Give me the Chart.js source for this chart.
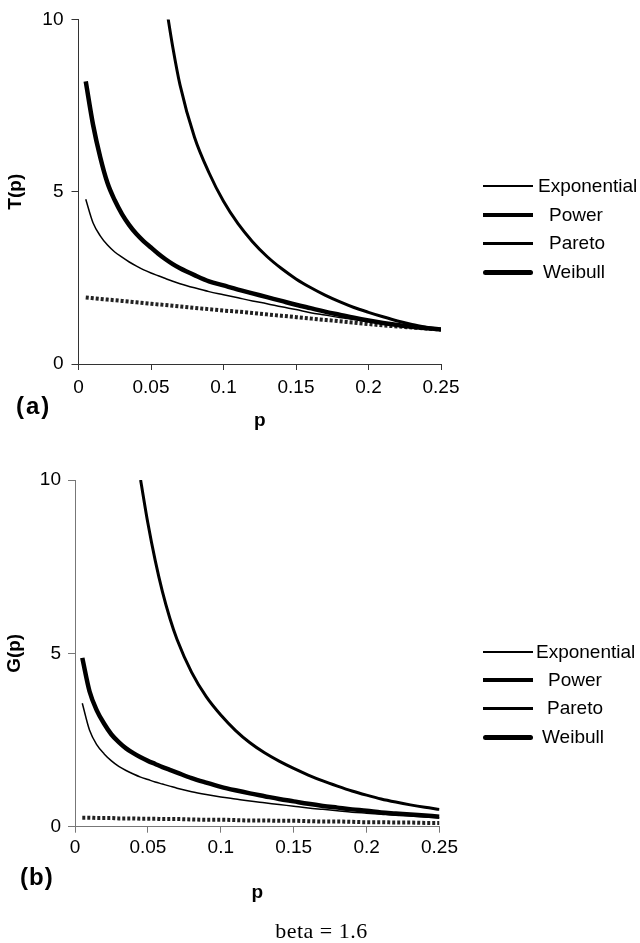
<!DOCTYPE html>
<html>
<head>
<meta charset="utf-8">
<script src="https://cdn.jsdelivr.net/npm/chart.js@4.4.1/dist/chart.umd.min.js"></script>
<style>
  body { margin: 0; background: #fff; }
  #page { position: relative; width: 640px; height: 943px; font-family: Arial, "Liberation Sans", sans-serif; color: #000; overflow: hidden; }
  canvas { position: absolute; left: 0; }
  .panel { position: absolute; font-weight: bold; font-size: 24px; line-height: 24px; }
  .leg-line { position: absolute; background: #000; }
  .leg-text { position: absolute; font-size: 19px; line-height: 24px; white-space: nowrap; }
  #beta { position: absolute; left: 0; width: 643px; top: 920px; text-align: center; font-family: "Liberation Serif", serif; font-size: 22px; line-height: 22px; letter-spacing: 0.5px; }
</style>
</head>
<body>
<div id="page">
  <canvas id="chartT" width="640" height="442" style="top:0px"></canvas>
  <canvas id="chartG" width="640" height="480" style="top:440px"></canvas>
  <div class="panel" style="left:16px; top:394px; letter-spacing:2px">(a)</div>
  <div class="panel" style="left:20px; top:865px; letter-spacing:1px">(b)</div>
  <div id="beta">beta = 1.6</div>
</div>
<script>
// p values shared by both panels
const pGrid = [0.005, 0.01, 0.015, 0.02, 0.025, 0.03, 0.035, 0.04, 0.045, 0.05, 0.055, 0.06, 0.065, 0.07,
               0.08, 0.09, 0.10, 0.11, 0.12, 0.13, 0.14, 0.15, 0.16, 0.17, 0.18, 0.19, 0.20, 0.21, 0.22, 0.23, 0.24, 0.25];

// panel (a): T(p)
const tExponential = [4.78, 4.10, 3.72, 3.45, 3.25, 3.10, 2.96, 2.84, 2.73, 2.64, 2.56, 2.48, 2.40, 2.33,
                      2.21, 2.10, 2.01, 1.92, 1.83, 1.75, 1.66, 1.58, 1.49, 1.42, 1.35, 1.29, 1.23, 1.18, 1.13, 1.08, 1.04, 1.00];
const tPower = [8.20, 6.95, 6.00, 5.25, 4.75, 4.35, 4.03, 3.77, 3.56, 3.38, 3.20, 3.04, 2.90, 2.78,
                2.58, 2.40, 2.28, 2.16, 2.05, 1.94, 1.83, 1.72, 1.62, 1.52, 1.43, 1.34, 1.26, 1.19, 1.13, 1.08, 1.04, 1.00];
const tPareto = [null, null, null, null, null, null, null, null, null, null, null, 10.5, 9.2, 8.1,
                 6.58, 5.55, 4.72, 4.07, 3.55, 3.12, 2.77, 2.47, 2.22, 2.00, 1.81, 1.64, 1.50, 1.37, 1.25, 1.15, 1.07, 1.00];
const tWeibull = [1.93, 1.91, 1.89, 1.87, 1.85, 1.83, 1.81, 1.79, 1.77, 1.75, 1.73, 1.71, 1.69, 1.67,
                  1.63, 1.59, 1.55, 1.52, 1.48, 1.44, 1.40, 1.36, 1.32, 1.28, 1.24, 1.20, 1.16, 1.12, 1.09, 1.06, 1.03, 1.00];

// panel (b): G(p)
const gExponential = [3.56, 2.78, 2.36, 2.10, 1.90, 1.74, 1.62, 1.52, 1.43, 1.36, 1.29, 1.23, 1.17, 1.11,
                      1.01, 0.93, 0.86, 0.80, 0.74, 0.69, 0.64, 0.59, 0.54, 0.50, 0.46, 0.42, 0.39, 0.36, 0.33, 0.31, 0.28, 0.26];
const gPower = [4.87, 3.90, 3.35, 2.97, 2.66, 2.44, 2.26, 2.12, 2.00, 1.90, 1.81, 1.72, 1.64, 1.56,
                1.40, 1.27, 1.15, 1.05, 0.96, 0.88, 0.80, 0.73, 0.66, 0.60, 0.55, 0.50, 0.46, 0.41, 0.38, 0.35, 0.32, 0.29];
const gPareto = [null, null, null, null, null, null, null, null, 10.0, 8.75, 7.68, 6.77, 6.02, 5.40,
                 4.45, 3.75, 3.22, 2.78, 2.42, 2.13, 1.89, 1.68, 1.49, 1.32, 1.17, 1.03, 0.91, 0.80, 0.71, 0.63, 0.56, 0.50];
const gWeibull = [0.26, 0.26, 0.25, 0.25, 0.25, 0.24, 0.24, 0.24, 0.23, 0.23, 0.23, 0.22, 0.22, 0.22,
                  0.21, 0.20, 0.20, 0.19, 0.18, 0.18, 0.17, 0.17, 0.16, 0.15, 0.15, 0.14, 0.13, 0.13, 0.12, 0.12, 0.11, 0.11];

const seriesNames = ['Exponential', 'Power', 'Pareto', 'Weibull'];
const xTickLabels = ['0', '0.05', '0.1', '0.15', '0.2', '0.25'];
const yTickLabels = ['0', '5', '10'];

// line look per series (chart and legend)
const lineStyles = {
    Exponential: { borderWidth: 1.5 },
    Power: { borderWidth: 4.5 },
    Pareto: { borderWidth: 3 },
    Weibull: { borderWidth: 4, borderDash: [3, 2], borderColor: '#222' }
};
const legendWidths = { Exponential: 1.5, Power: 4.5, Pareto: 3, Weibull: 5 };

function toPoints(vals) {
    return pGrid.map((p, i) => ({ x: p, y: vals[i] }));
}

function buildChart(id, series, yTitle, box) {
    const font = { family: 'Arial, "Liberation Sans", sans-serif', size: 19 };
    new Chart(document.getElementById(id), {
        type: 'line',
        data: {
            datasets: seriesNames.map((name, k) => Object.assign({
                label: name,
                data: toPoints(series[k]),
                borderColor: '#000',
                backgroundColor: '#000',
                pointRadius: 0,
                fill: false,
                cubicInterpolationMode: 'monotone'
            }, lineStyles[name]))
        },
        options: {
            responsive: false,
            animation: false,
            devicePixelRatio: 1,
            layout: { padding: { top: box.top, right: 640 - box.right, left: 0, bottom: 0 } },
            plugins: { legend: { display: false }, tooltip: { enabled: false } },
            scales: {
                x: {
                    type: 'linear',
                    min: 0,
                    max: 0.25,
                    afterFit: function (s) { s.height = box.height - box.bottom; },
                    ticks: {
                        stepSize: 0.05,
                        autoSkip: false,
                        maxRotation: 0,
                        color: '#000',
                        font: font,
                        padding: box.xTickPad,
                        callback: (v, i) => xTickLabels[i]
                    },
                    grid: { drawOnChartArea: false, tickLength: 6, color: box.axisColor },
                    border: { color: box.axisColor, width: 1 },
                    title: {
                        display: true,
                        text: 'p',
                        color: '#000',
                        font: Object.assign({}, font, { weight: 'bold' }),
                        padding: { top: 0, bottom: box.xTitlePad }
                    }
                },
                y: {
                    min: 0,
                    max: 10,
                    afterFit: function (s) { s.width = box.left; },
                    ticks: {
                        stepSize: 5,
                        color: '#000',
                        font: font,
                        padding: box.yTickPad,
                        callback: (v, i) => yTickLabels[i]
                    },
                    grid: { drawOnChartArea: false, tickLength: 7, color: box.axisColor },
                    border: { color: box.axisColor, width: 1 },
                    title: {
                        display: true,
                        text: yTitle,
                        color: '#000',
                        font: Object.assign({}, font, { weight: 'bold' }),
                        padding: { top: box.yTitlePad, bottom: 0 }
                    }
                }
            }
        }
    });
}

function buildLegend(rowsY, textX) {
    const page = document.getElementById('page');
    seriesNames.forEach((name, k) => {
        const w = legendWidths[name];
        const line = document.createElement('div');
        line.className = 'leg-line';
        line.style.left = '483px';
        line.style.width = '50px';
        line.style.height = w + 'px';
        line.style.top = (rowsY[k] - w / 2) + 'px';
        if (name === 'Weibull') line.style.borderRadius = '3px';
        page.appendChild(line);

        const txt = document.createElement('div');
        txt.className = 'leg-text';
        txt.textContent = name;
        txt.style.left = textX[k] + 'px';
        txt.style.top = (rowsY[k] - 12) + 'px';
        page.appendChild(txt);
    });
}

buildChart('chartT', [tExponential, tPower, tPareto, tWeibull], 'T(p)', {
    left: 78.5, right: 441, top: 16, bottom: 364, height: 442,
    xTickPad: 6, yTickPad: 8, xTitlePad: 10, yTitlePad: 4, axisColor: '#333'
});
buildChart('chartG', [gExponential, gPower, gPareto, gWeibull], 'G(p)', {
    left: 75, right: 439.5, top: 40, bottom: 386.7, height: 480,
    xTickPad: 4, yTickPad: 7, xTitlePad: 16, yTitlePad: 3, axisColor: '#777'
});

buildLegend([186, 215, 243, 272], [538, 549, 549, 543]);
buildLegend([652, 680, 708, 737], [536, 548, 547, 542]);
</script>
</body>
</html>
